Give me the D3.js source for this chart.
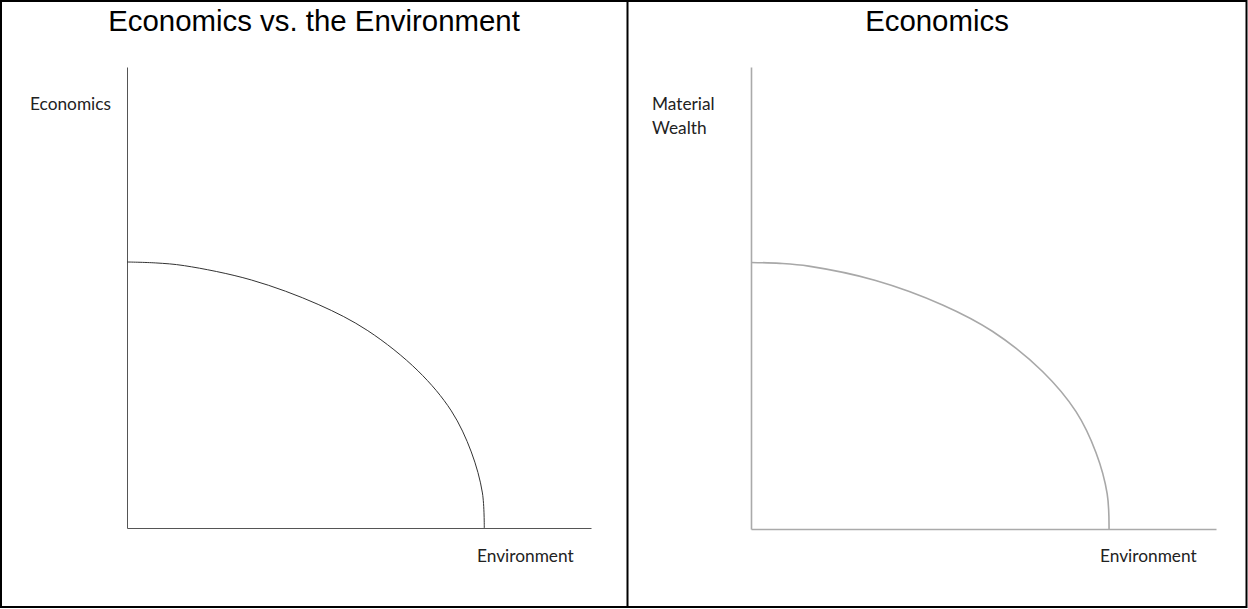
<!DOCTYPE html>
<html>
<head>
<meta charset="utf-8">
<script src="https://cdn.jsdelivr.net/npm/d3@7"></script>
<style>
  html, body { margin: 0; padding: 0; background: #fff; }
  svg { display: block; }
</style>
</head>
<body>
<svg id="chart" width="1248" height="609"></svg>
<script>
// ---- data ----
const panelTitles = ["Economics vs. the Environment", "Economics"];
const yAxisLabels = [["Economics"], ["Material", "Wealth"]];
const xAxisLabels = ["Environment", "Environment"];
// frontier points (environment, economics) in axis units (axes run 0..10)
const frontierX = [0, 0.62, 1.24, 2.68, 4.12, 5.19, 6.27, 6.99, 7.42, 7.66, 7.70];
const frontierY = [5.77, 5.75, 5.69, 5.38, 4.85, 4.28, 3.41, 2.54, 1.65, 0.76, 0];
const axisDomain = [0, 10];

// ---- layout ----
const svg = d3.select("#chart");
const W = 1248, H = 609;

svg.append("rect").attr("x", 1).attr("y", 1).attr("width", W - 2.5).attr("height", H - 3)
  .attr("fill", "none").attr("stroke", "#000").attr("stroke-width", 2);
svg.append("line").attr("x1", 627.5).attr("x2", 627.5).attr("y1", 1).attr("y2", H - 2)
  .attr("stroke", "#000").attr("stroke-width", 2);

const panels = [
  { cx: 314, ox: 127, xEnd: 591, oy: 528, yTop: 67, lineColor: "#555", curveColor: "#333", sw: 1,
    yLabelX: 30, xLabelX: 477 },
  { cx: 937, ox: 751, xEnd: 1216, oy: 529, yTop: 67, lineColor: "#aaa", curveColor: "#a8a8a8", sw: 1.6,
    yLabelX: 652, xLabelX: 1100 }
];

const pts = frontierX.map((d, i) => [d, frontierY[i]]);

panels.forEach((p, i) => {
  const g = svg.append("g");
  g.append("text").attr("x", p.cx).attr("y", 31).attr("text-anchor", "middle")
    .attr("font-family", "Liberation Sans, Arial, sans-serif").attr("font-size", 29.4)
    .attr("fill", "#000").text(panelTitles[i]);

  const x = d3.scaleLinear().domain(axisDomain).range([p.ox, p.xEnd]);
  const y = d3.scaleLinear().domain(axisDomain).range([p.oy, p.yTop]);

  const xAxis = g.append("g").attr("transform", `translate(0,${p.oy})`)
    .call(d3.axisBottom(x).ticks(0).tickSizeOuter(0));
  const yAxis = g.append("g").attr("transform", `translate(${p.ox},0)`)
    .call(d3.axisLeft(y).ticks(0).tickSizeOuter(0));
  [xAxis, yAxis].forEach(a => a.select(".domain").attr("stroke", p.lineColor).attr("stroke-width", p.sw));

  const line = d3.line().x(d => x(d[0])).y(d => y(d[1])).curve(d3.curveCatmullRom.alpha(0.5));
  g.append("path").datum(pts).attr("d", line).attr("fill", "none")
    .attr("stroke", p.curveColor).attr("stroke-width", p.sw);

  const lab = g.append("text").attr("font-family", "Lato, sans-serif").attr("font-size", 17.3)
    .attr("fill", "#222");
  yAxisLabels[i].forEach((t, k) => {
    lab.append("tspan").attr("x", p.yLabelX).attr("y", 110 + k * 24).text(t);
  });
  g.append("text").attr("x", p.xLabelX).attr("y", 562)
    .attr("font-family", "Lato, sans-serif").attr("font-size", 17.3)
    .attr("fill", "#222").text(xAxisLabels[i]);
});
</script>
</body>
</html>
